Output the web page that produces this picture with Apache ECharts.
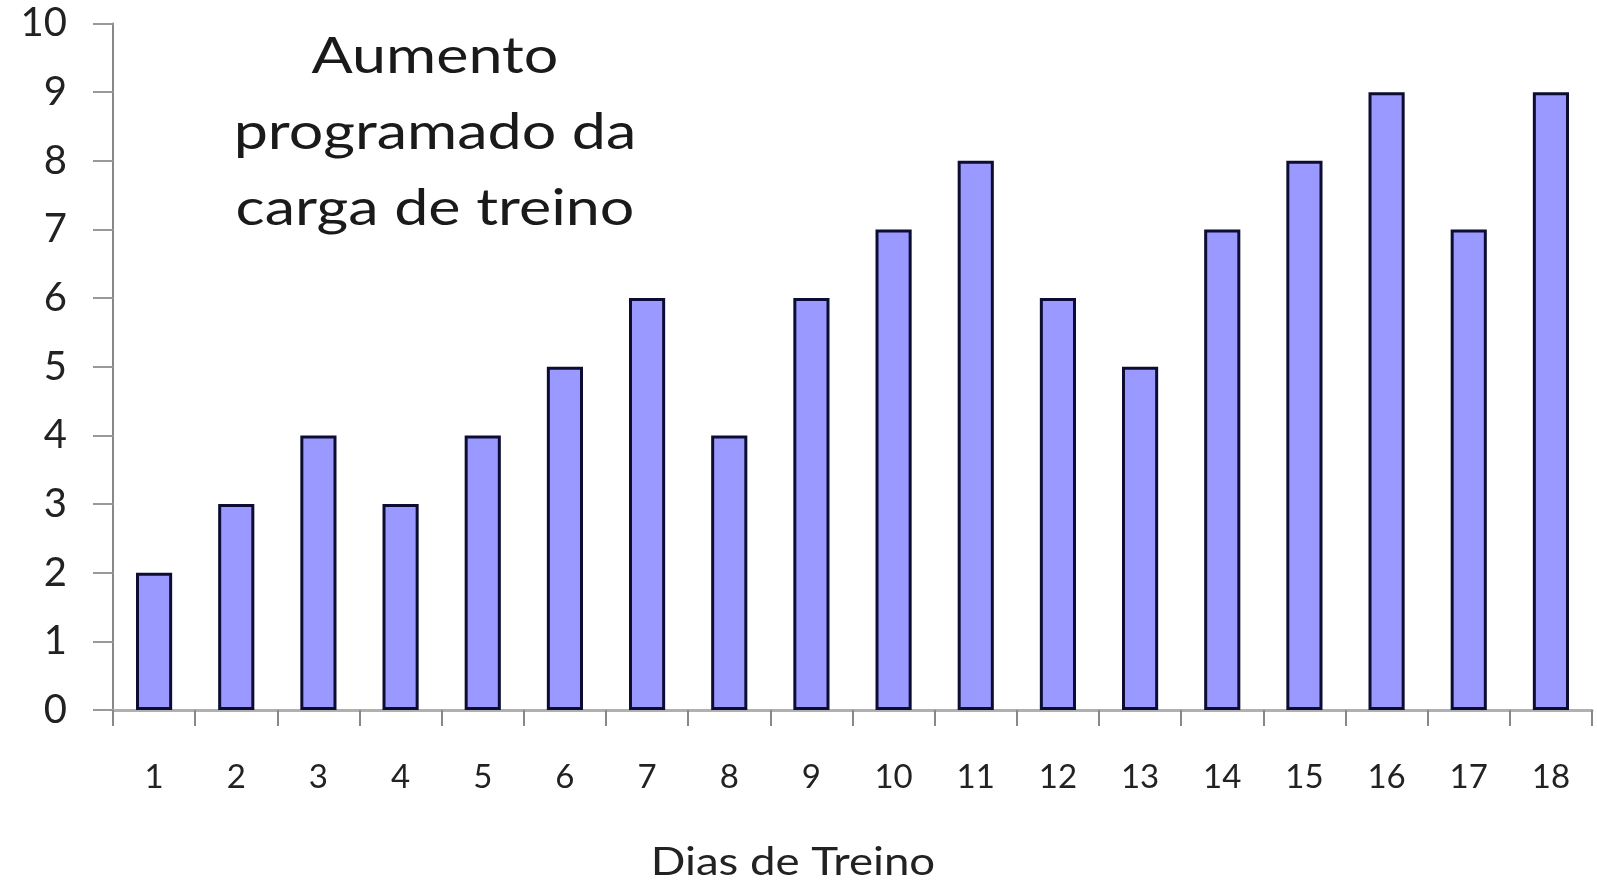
<!DOCTYPE html>
<html>
<head>
<meta charset="utf-8">
<script src="https://cdn.jsdelivr.net/npm/echarts@6/dist/echarts.min.js"></script>
<style>
  html, body { margin: 0; padding: 0; background: #ffffff; }
  #chart { width: 1597px; height: 884px; }
</style>
</head>
<body>
<div id="chart"></div>
<script>
// Training days and the planned load for each day
const days = ['1','2','3','4','5','6','7','8','9','10','11','12','13','14','15','16','17','18'];
const load = [2, 3, 4, 3, 4, 5, 6, 4, 6, 7, 8, 6, 5, 7, 8, 9, 7, 9];
const titleLines = ['Aumento', 'programado da', 'carga de treino'];
const xAxisTitle = 'Dias de Treino';

const font = 'Lato, "Open Sans", sans-serif';
const chart = echarts.init(document.getElementById('chart'));

chart.setOption({
  backgroundColor: '#ffffff',
  animation: false,
  grid: { left: 113, right: 5, top: 23.5, bottom: 174, containLabel: false },
  graphic: [{
    // chart caption, slightly widened lettering
    type: 'text',
    x: 435,
    y: 19,
    scaleX: 1.22,
    style: {
      text: titleLines.join('\n'),
      align: 'center',
      verticalAlign: 'top',
      fontFamily: font,
      fontSize: 50,
      lineHeight: 76,
      fill: '#1a1a1a'
    }
  }, {
    // horizontal axis title
    type: 'text',
    x: 793,
    y: 863,
    scaleX: 1.2,
    style: {
      text: xAxisTitle,
      align: 'center',
      verticalAlign: 'middle',
      fontFamily: font,
      fontSize: 38,
      fill: '#222'
    }
  }],
  xAxis: {
    type: 'category',
    data: days,
    boundaryGap: true,
    axisLine: { lineStyle: { color: '#b0b0b0', width: 3 } },
    axisTick: { show: true, length: 16, lineStyle: { color: '#888', width: 2 } },
    axisLabel: { margin: 51, fontFamily: font, fontSize: 33, color: '#222' }
  },
  yAxis: {
    type: 'value',
    min: 0,
    max: 10,
    interval: 1,
    splitLine: { show: false },
    axisLine: { show: true, lineStyle: { color: '#888', width: 2 } },
    axisTick: { show: true, length: 20, lineStyle: { color: '#999', width: 2 } },
    axisLabel: { margin: 46, fontFamily: font, fontSize: 40, color: '#222' }
  },
  series: [{
    type: 'bar',
    data: load,
    barWidth: '44%',
    itemStyle: {
      color: '#9999ff',
      borderColor: '#0d0d33',
      borderWidth: 3
    }
  }]
});
</script>
</body>
</html>
